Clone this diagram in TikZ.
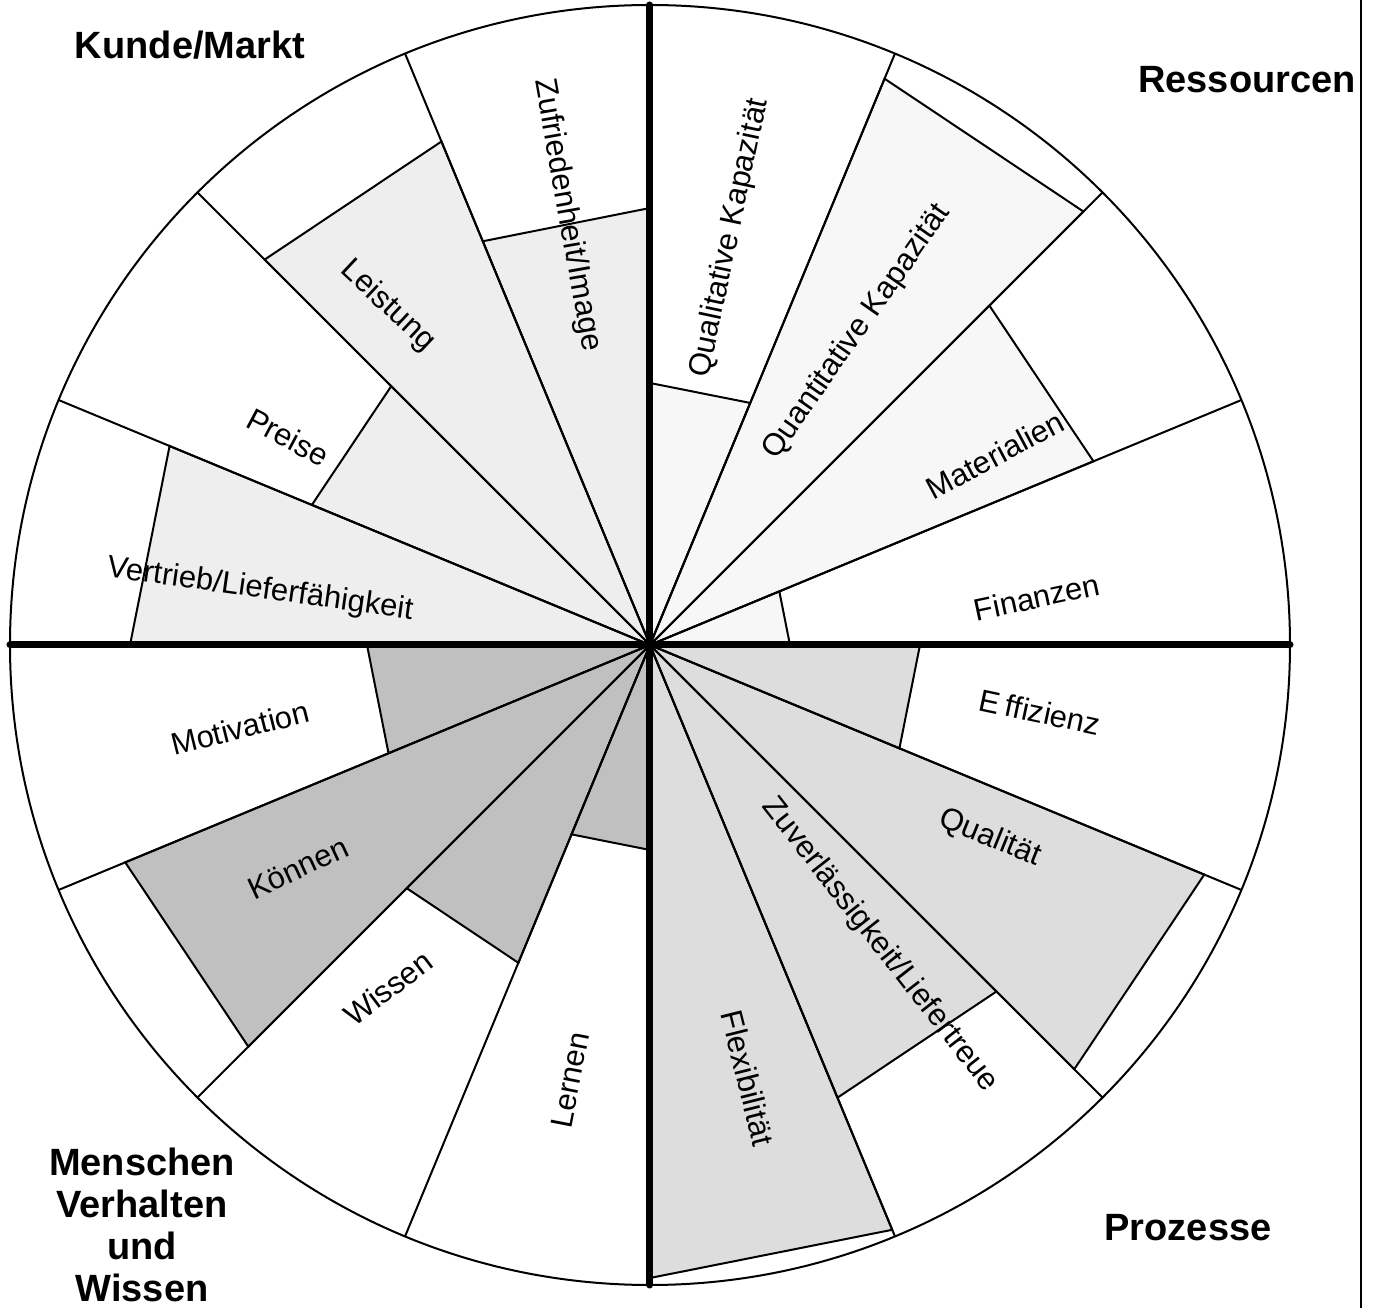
\documentclass[tikz,border=0pt]{standalone}
\usepackage{fontspec}
\setmainfont{Liberation Sans}
\definecolor{resfill}{HTML}{F7F7F7}
\definecolor{kmfill}{HTML}{EEEEEE}
\definecolor{mwfill}{HTML}{C0C0C0}
\definecolor{prfill}{HTML}{DDDDDD}
\begin{document}
\begin{tikzpicture}[x=1pt,y=1pt,
  wedge/.style={draw=black, line width=2pt, line join=miter},
  spoke/.style={draw=black, line width=2pt},
  rim/.style={draw=black, line width=2pt},
  mainaxis/.style={draw=black, line width=7pt, line cap=round},
  lbl/.style={font=\fontsize{31}{37}\selectfont, inner sep=0pt},
  head/.style={font=\fontsize{38}{42}\selectfont\bfseries, align=center, inner sep=0pt}]
\useasboundingbox (-650,-663) rectangle (727,645);
\coordinate (O) at (0,0);

% sixteen wedges: start angle / radius / fill
\foreach \a/\r/\c in {
   67.5/262/resfill, 45/613/resfill, 22.5/480/resfill, 0/140/resfill,
   90/437/kmfill, 112.5/545/kmfill, 135/366/kmfill, 157.5/520/kmfill,
   180/283/mwfill, 202.5/568/mwfill, 225/344/mwfill, 247.5/205/mwfill,
   270/633/prfill, 292.5/490/prfill, 315/600/prfill, 337.5/270/prfill}
  \filldraw[wedge, fill=\c] (O) -- (\a:\r) -- ({\a+22.5}:\r) -- cycle;

% spokes and outer circle
\foreach \a in {0,22.5,45,67.5,90,112.5,135,157.5,180,202.5,225,247.5,270,292.5,315,337.5}
  \draw[spoke] (O) -- (\a:640);
\draw[rim] (O) circle (640);

% main axes
\draw[mainaxis] (0,-640) -- (0,640);
\draw[mainaxis] (-640,0) -- (640,0);

% right border line
\draw[line width=2.5pt] (711,645) -- (711,-663);

% sector labels
\node[lbl, rotate=-80] (zuf) at (-83,430) {Zufriedenheit/Image};
\node[lbl, rotate=-43] (lei) at (-262,339) {Leistung};
\node[lbl, rotate=-28] (pre) at (-362,208) {Preise};
\node[lbl, rotate=-8]  (ver) at (-390,55) {Vertrieb/Lieferfähigkeit};
\node[lbl, rotate=78]  (qlk) at (80,407) {Qualitative Kapazität};
\node[lbl, rotate=55]  (qnk) at (207,313) {Quantitative Kapazität};
\node[lbl, rotate=28]  (mat) at (345,190) {Materialien};
\node[lbl, rotate=12]  (fin) at (387,48) {Finanzen};
\node[lbl, rotate=-12] (eff) at (390,-67) {E\hspace{0.2em}ffizienz};
\node[lbl, rotate=-22] (qua) at (340,-193) {Qualität};
\node[lbl, rotate=-52] (zuv) at (230,-300) {Zuverlässigkeit/Liefertreue};
\node[lbl, rotate=-76] (fle) at (98,-433) {Flexibilität};
\node[lbl, rotate=79]  (ler) at (-80,-435) {Lernen};
\node[lbl, rotate=37]  (wis) at (-262,-343) {Wissen};
\node[lbl, rotate=25]  (koe) at (-352,-223) {Können};
\node[lbl, rotate=14]  (mot) at (-410,-83) {Motivation};

% quadrant headings
\node[head] (km) at (-460,600) {Kunde/Markt};
\node[head] (res) at (597,565) {Ressourcen};
\node[head] (pro) at (538,-583) {Prozesse};
\node[head] (mvw) at (-508,-580) {Menschen\\Verhalten\\und\\Wissen};
\end{tikzpicture}
\end{document}
